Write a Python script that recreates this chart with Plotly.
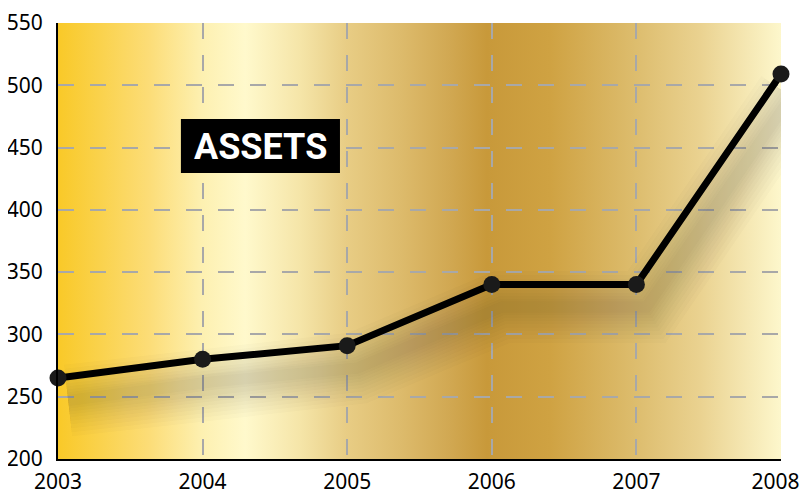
import base64
import plotly.graph_objects as go

years = [2003, 2004, 2005, 2006, 2007, 2008]
assets = [265, 280, 291, 340, 340, 509]
y_ticks = [200, 250, 300, 350, 400, 450, 500, 550]
x_tick_labels = ["2003", "2004", "2005", "2006", "2007", "2008\u00a0\u00a0"]
title_text = "ASSETS"

# horizontal background gradient (offset fraction, colour)
grad_stops = [
    (0.000, "#F9C928"), (0.058, "#FAD24C"), (0.127, "#FCDD78"), (0.198, "#FDF0B0"),
    (0.259, "#FFF9CC"), (0.335, "#F5E5A8"), (0.398, "#E8CD85"), (0.473, "#DDBB6C"),
    (0.542, "#D1A852"), (0.593, "#C8993A"), (0.680, "#CFA242"), (0.800, "#DDBD6E"),
    (0.888, "#EAD290"), (1.000, "#FDF7CC"),
]
stops_svg = "".join(f'<stop offset="{o}" stop-color="{c}"/>' for o, c in grad_stops)
svg = ('<svg xmlns="http://www.w3.org/2000/svg" width="100" height="100" viewBox="0 0 100 100" '
       'preserveAspectRatio="none"><defs><linearGradient id="g" x1="0" y1="0" x2="1" y2="0">'
       + stops_svg + '</linearGradient></defs><rect width="100" height="100" fill="url(#g)"/></svg>')
bg_src = "data:image/svg+xml;base64," + base64.b64encode(svg.encode()).decode()

fig = go.Figure()

# soft drop shadow under the line (stacked translucent strokes)
sh_dx, sh_dy = 0.07, -18
for w in [72, 64, 56, 48, 41, 34, 28, 22, 16, 11]:
    fig.add_trace(go.Scatter(
        x=[v + sh_dx for v in years], y=[v + sh_dy for v in assets], mode="lines",
        line=dict(color="rgba(60,50,30,0.02)", width=w),
        hoverinfo="skip", showlegend=False))

fig.add_trace(go.Scatter(
    x=years, y=assets, mode="lines+markers",
    line=dict(color="#000000", width=7),
    marker=dict(color="#1a1a1a", size=17),
    cliponaxis=False, showlegend=False))

fig.add_layout_image(dict(
    source=bg_src, xref="paper", yref="paper", x=0, y=1, sizex=1, sizey=1,
    sizing="stretch", xanchor="left", yanchor="top", layer="below"))

fig.add_shape(type="rect", xref="paper", yref="paper", x0=0.170, x1=0.390, y0=0.656, y1=0.780,
              fillcolor="#000000", line=dict(width=0))
fig.add_annotation(xref="paper", yref="paper", x=0.280, y=0.716, text=f"<b>{title_text}</b>",
                   showarrow=False, xanchor="center", yanchor="middle",
                   font=dict(family="Roboto, sans-serif", size=36, color="#FFFFFF"))

fig.update_layout(
    width=809, height=494,
    margin=dict(l=50, r=36, t=15, b=43),
    paper_bgcolor="#FFFFFF", plot_bgcolor="rgba(0,0,0,0)",
    font=dict(family="Noto Sans, Open Sans, sans-serif", size=21, color="#000000"),
)
fig.update_xaxes(
    range=[2003, 2008], tickvals=years, ticktext=x_tick_labels,
    showgrid=True, gridcolor="#A8A8A8", gridwidth=1.5, griddash="16px,16px",
    showline=True, linecolor="#000000", linewidth=2, zeroline=False,
    ticks="outside", ticklen=3, tickcolor="rgba(0,0,0,0)", automargin=False,
    ticklabeloverflow="allow")
fig.update_yaxes(
    range=[200, 550], tickvals=y_ticks,
    showgrid=True, gridcolor="#A8A8A8", gridwidth=1.5, griddash="16px,16px",
    showline=True, linecolor="#000000", linewidth=2, zeroline=False,
    ticks="outside", ticklen=9, tickcolor="rgba(0,0,0,0)", automargin=False,
    ticklabeloverflow="allow")

fig.write_html("out.html")
